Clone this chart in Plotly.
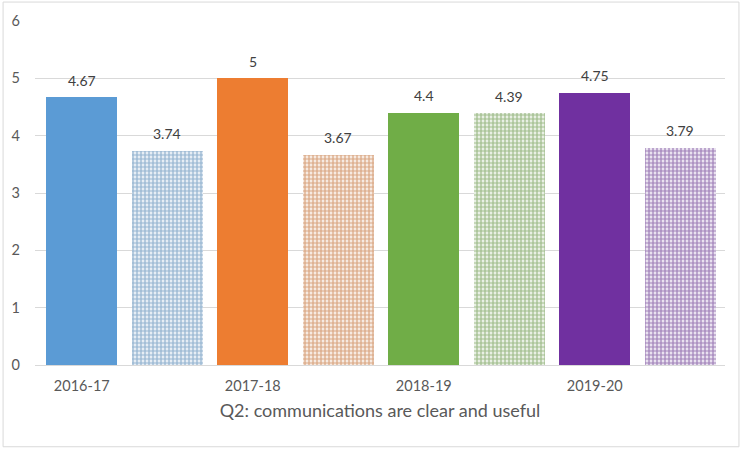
import plotly.graph_objects as go

years = ["2016-17", "2017-18", "2018-19", "2019-20"]
solid_values = [4.67, 5, 4.4, 4.75]
pattern_values = [3.74, 3.67, 4.39, 3.79]
colors = ["#5B9BD5", "#ED7D31", "#70AD47", "#7030A0"]
dot_colors = ["#4A7FB0", "#C0682A", "#5C8E3A", "#5E2887"]
solid_labels = ["4.67", "5", "4.4", "4.75"]
pattern_labels = ["3.74", "3.67", "4.39", "3.79"]
axis_title = "Q2: communications are clear and useful"

FONT = "Lato, Open Sans, sans-serif"

W, H = 741, 449
L, R, T, B = 33, 16, 20, 84

fig = go.Figure()
xs_solid = [2 * i for i in range(len(years))]
xs_pat = [2 * i + 1 for i in range(len(years))]

fig.add_trace(go.Bar(
    x=xs_solid, y=solid_values, width=0.83,
    marker=dict(color=colors, line=dict(width=0)),
    showlegend=False, hoverinfo="y",
))
fig.add_trace(go.Bar(
    x=xs_pat, y=pattern_values, width=0.83,
    marker=dict(color="white", line=dict(width=0),
                pattern=dict(shape=".", fgcolor=dot_colors, bgcolor="white",
                             size=4, solidity=0.7, fillmode="overlay")),
    showlegend=False, hoverinfo="y",
))

annotations = []
for x, v, t in zip(xs_solid + xs_pat, solid_values + pattern_values, solid_labels + pattern_labels):
    annotations.append(dict(x=x, y=v, text=t, showarrow=False, yshift=17,
                            font=dict(family=FONT, size=14, color="#404040")))

pw = W - L - R
ph = H - T - B
fig.update_layout(
    width=W, height=H,
    margin=dict(l=L, r=R, t=T, b=B),
    paper_bgcolor="white", plot_bgcolor="white",
    bargap=0,
    annotations=annotations,
    font=dict(family=FONT, size=14, color="#595959"),
    xaxis=dict(
        range=[-0.547, 7.523],
        tickvals=xs_solid, ticktext=years,
        showgrid=False, zeroline=False, showline=False, ticks="",
        tickfont=dict(family=FONT, size=14.5, color="#595959"),
        ticklabelstandoff=10,
        title=dict(text=axis_title, standoff=11,
                   font=dict(family=FONT, size=18, color="#595959")),
    ),
    yaxis=dict(
        range=[0, 6], dtick=1,
        showgrid=True, gridcolor="#D9D9D9", gridwidth=1,
        zeroline=True, zerolinecolor="#D9D9D9", zerolinewidth=1,
        showline=False, ticks="",
        tickfont=dict(family=FONT, size=14.5, color="#595959"),
        ticklabelstandoff=14,
    ),
    shapes=[dict(type="rect", xref="paper", yref="paper",
                 x0=(1 - L) / pw, x1=(739 - L) / pw,
                 y0=-(447 - (H - B)) / ph, y1=((H - B) - 1) / ph,
                 line=dict(color="#D9D9D9", width=1), layer="below")],
)

fig.write_html("out.html", config={"displayModeBar": False},
               post_script="document.body.style.margin='0';")
